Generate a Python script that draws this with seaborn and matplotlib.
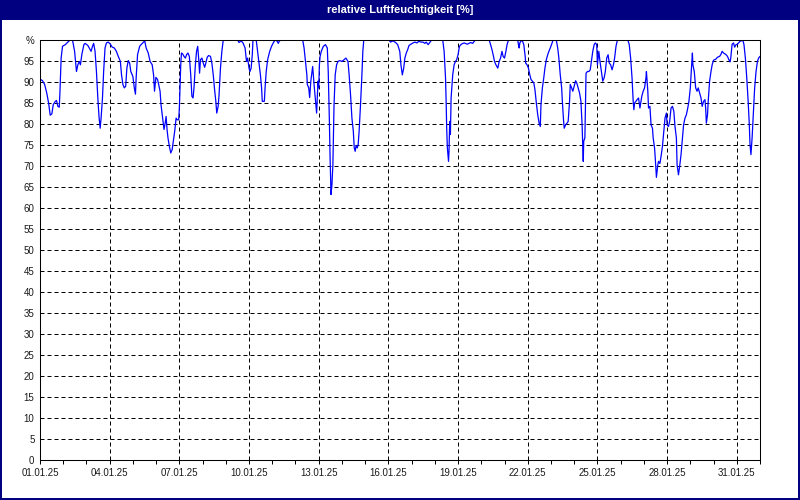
import numpy as np
import pandas as pd
import matplotlib
matplotlib.use("Agg")
import matplotlib.pyplot as plt
import matplotlib.dates as mdates
from matplotlib.patches import Rectangle
from matplotlib.ticker import FixedLocator
import seaborn as sns

# ---------------- data ----------------
start_date = "2025-01-01"
end_date = "2025-02-01"
chart_title = "relative Luftfeuchtigkeit [%]"
x_tick_dates = ["2025-01-01", "2025-01-04", "2025-01-07", "2025-01-10",
                "2025-01-13", "2025-01-16", "2025-01-19", "2025-01-22",
                "2025-01-25", "2025-01-28", "2025-01-31"]

# time as fractional days after 01.01.25 00:00, relative humidity in %
days_1 = [0.03, 0.11, 0.20, 0.29, 0.37, 0.44, 0.51, 0.57, 0.66, 0.71,
          0.77, 0.83, 0.86, 0.91, 0.97, 1.09, 1.20, 1.29, 1.40, 1.49,
          1.57, 1.63, 1.69, 1.74, 1.80, 1.89, 1.94, 2.06, 2.14, 2.20,
          2.26, 2.31, 2.37, 2.43, 2.49, 2.54, 2.59, 2.63, 2.69, 2.74,
          2.80, 2.86, 2.94, 3.03, 3.11, 3.20, 3.29, 3.37, 3.46, 3.51,
          3.57, 3.63, 3.69, 3.74, 3.80, 3.86, 3.91, 4.00, 4.06, 4.11,
          4.14, 4.20, 4.29, 4.37, 4.46, 4.51, 4.57, 4.66, 4.74, 4.83,
          4.89, 4.93, 4.99, 5.06, 5.11, 5.17, 5.21]
rh_1 = [90.6, 90.3, 89.4, 87.4, 85, 82.1, 82.4, 84.6, 85.4, 85.6,
        84.2, 84, 87.8, 95.7, 98.5, 98.9, 99.5, 100, 100, 97.3,
        92.5, 94.1, 94.9, 94.1, 96.5, 98.9, 99.2, 98.7, 97.9, 97.3,
        98.5, 99.2, 97.3, 92.5, 86.2, 81.8, 79, 81.4, 86.2, 92.5,
        98.1, 99.3, 99.5, 99, 98.3, 98.1, 97.3, 96.1, 94.9, 91.7,
        89.4, 88.6, 89, 93.3, 95.1, 94.5, 92.5, 91.3, 88.6, 87.1,
        91, 96.5, 98.5, 99, 99.5, 99.8, 98.1, 96.9, 94.9, 94.1,
        91.7, 87.8, 91.1, 90.6, 89.4, 87.8, 84.6]

days_2 = [5.30, 5.34, 5.39, 5.43, 5.47, 5.51, 5.57, 5.63, 5.69, 5.74,
          5.80, 5.86, 5.91, 5.97, 6.00, 6.06, 6.09, 6.14, 6.20, 6.26,
          6.31, 6.37, 6.43, 6.49, 6.54, 6.59, 6.63, 6.69, 6.74, 6.79,
          6.83, 6.87, 6.91, 6.97, 7.03, 7.09, 7.14, 7.20, 7.26, 7.34,
          7.40, 7.46, 7.51, 7.57, 7.61, 7.67, 7.71, 7.77, 7.83, 7.89,
          8.51, 8.57, 8.66, 8.74, 8.83, 8.89, 8.94, 9.00, 9.04, 9.09,
          9.14, 9.17, 9.31, 9.37, 9.43, 9.49, 9.54, 9.57, 9.66, 9.69,
          9.74, 9.80, 9.89, 9.97, 10.06, 10.14, 10.20, 10.26, 10.31, 10.40]
rh_2 = [80.6, 78.7, 80.2, 81.8, 78.7, 76.7, 74.7, 73.1, 73.9, 75.9,
        78.3, 81.4, 81, 81, 83.8, 94.1, 96.9, 96.7, 96.1, 95.7,
        96.5, 96.9, 96.1, 91.7, 86.6, 86.2, 88.6, 94.1, 97.3, 98.5,
        95.7, 92.1, 95.3, 95.7, 94.5, 93.5, 94.5, 95.9, 96.3, 96.1,
        94.5, 91.7, 88.6, 85.4, 82.6, 84.2, 87, 93.3, 97.3, 100,
        100, 99.4, 99.8, 99.3, 98.1, 94.9, 95.7, 93.3, 92.5, 93.3,
        96.5, 100, 100, 97.3, 94.5, 91.7, 88.6, 85.4, 85.4, 88.6,
        92.5, 95.3, 97.3, 98.5, 99.5, 100, 99.8, 99.2, 99.8, 100]

days_3 = [11.31, 11.37, 11.43, 11.49, 11.51, 11.57, 11.61, 11.66, 11.71, 11.74,
          11.80, 11.86, 11.91, 11.94, 11.97, 12.00, 12.03, 12.06, 12.11, 12.20,
          12.29, 12.37, 12.41, 12.46, 12.49, 12.53, 12.57, 12.61, 12.66, 12.71,
          12.77, 12.83, 12.91, 13.00, 13.09, 13.17, 13.26, 13.31, 13.37, 13.43,
          13.49, 13.53, 13.57, 13.61, 13.66, 13.70, 13.74, 13.80, 13.86, 13.90,
          13.94, 15.03, 15.09, 15.20, 15.31, 15.40]
rh_3 = [100, 98.1, 94.9, 91.7, 89.4, 88.6, 86.3, 90.2, 92.5, 93.7,
        89.4, 85.8, 82.6, 86.2, 90.2, 88.6, 94.1, 96.1, 97.3, 98.5,
        98.9, 98.1, 92.5, 80.6, 71.9, 63.2, 65.6, 70.3, 84.6, 91.7,
        94.1, 94.9, 95.1, 94.9, 95.3, 95.7, 94.9, 91.7, 87, 81.4,
        78.3, 74.3, 73.5, 74.9, 74.3, 75.2, 78.3, 84.6, 91.7, 97.3,
        100, 100, 99.5, 99.8, 99.4, 98.9]

days_4 = [15.49, 15.54, 15.60, 15.66, 15.71, 15.77, 15.83, 15.89, 15.97, 16.06,
          16.14, 16.23, 16.31, 16.40, 16.49, 16.57, 16.63, 16.71, 16.77, 16.83,
          16.89, 17.34, 17.40, 17.46, 17.49, 17.51, 17.54, 17.59, 17.61, 17.64,
          17.67, 17.70, 17.74, 17.77, 17.83, 17.89, 17.94, 18.00, 18.06, 18.14,
          18.26, 18.40, 18.54, 18.63, 18.71, 18.77, 19.34, 19.40, 19.46, 19.51,
          19.57, 19.63, 19.71, 19.77, 19.83, 19.89, 19.94, 20.00, 20.06, 20.11,
          20.17, 20.57, 20.60, 20.63, 20.66, 20.71]
rh_4 = [97.3, 94.1, 91.7, 93.3, 95.7, 96.9, 97.7, 98.7, 99, 99.3,
        99.5, 99.3, 99.7, 99.5, 99.5, 99.2, 99.5, 98.9, 99.3, 99.8,
        100, 100, 97.3, 91, 84.6, 79, 74.3, 71.1, 73.5, 80.6,
        77.5, 86.2, 89.4, 91.7, 94.1, 94.9, 95.3, 96.5, 98.5, 99,
        99.3, 99, 99.4, 99.2, 99.8, 100, 100, 98.9, 97.7, 96.5,
        94.9, 94.1, 93.3, 94.9, 95.7, 97.3, 96.1, 95.7, 97.3, 98.9,
        100, 100, 98.9, 98.1, 99.3, 99.8]

days_5 = [20.77, 20.83, 20.89, 20.91, 20.97, 21.03, 21.09, 21.14, 21.20, 21.26,
          21.31, 21.37, 21.43, 21.49, 21.54, 21.57, 21.63, 21.69, 21.74, 21.80,
          21.86, 21.91, 21.97, 22.03, 22.09, 22.23, 22.29, 22.34, 22.40, 22.46,
          22.49, 22.54, 22.57, 22.63, 22.69, 22.74, 22.80, 22.83, 22.89, 22.94,
          23.00, 23.06, 23.11, 23.17, 23.23, 23.29, 23.34, 23.39, 23.41, 23.46,
          23.49, 23.51, 23.57, 23.63, 23.69, 23.74, 23.80, 23.86, 23.91, 23.97,
          24.00, 24.06, 24.11, 24.17, 24.23, 24.29, 24.34, 24.40, 24.46, 24.51,
          24.57, 24.63, 24.69, 24.74, 24.80, 24.86, 25.31, 25.37, 25.43, 25.49,
          25.54, 25.57, 25.60, 25.66, 25.71, 25.77, 25.83]
rh_5 = [99.8, 98.9, 96.1, 94.5, 94.1, 93.3, 91.7, 90.6, 90.2, 89.8,
        88.2, 85, 82.2, 80.2, 79.4, 84.6, 88.6, 91, 93.3, 95.3,
        96.5, 97.3, 98.1, 99, 100, 100, 98.1, 95.7, 91.7, 88.6,
        85.4, 81, 79, 79.8, 80.2, 80.6, 85.4, 89.4, 88.6, 87.8,
        89, 90.3, 89.8, 88.6, 87.4, 85.4, 79.8, 71.1, 75.9, 76.7,
        85.4, 92.1, 92.5, 92.5, 92.9, 94.9, 97.3, 98.9, 99.3, 98.9,
        94.1, 97.3, 94.9, 92.5, 90.2, 91, 92.5, 95.7, 96.5, 94.5,
        94.1, 92.9, 94.1, 95.7, 98.5, 100, 100, 98.9, 95.7, 91,
        85.4, 83.4, 85, 85.4, 85.8, 86.2, 83.8]

days_6 = [25.91, 25.97, 26.03, 26.09, 26.11, 26.14, 26.17, 26.20, 26.26, 26.31,
          26.37, 26.40, 26.46, 26.49, 26.54, 26.60, 26.63, 26.69, 26.74, 26.80,
          26.86, 26.91, 26.97, 27.00, 27.06, 27.11, 27.17, 27.23, 27.29, 27.34,
          27.40, 27.43, 27.49, 27.54, 27.60, 27.66, 27.71, 27.77, 27.83, 27.89,
          27.94, 28.00, 28.04, 28.09, 28.11, 28.17, 28.23, 28.29, 28.34, 28.40,
          28.46, 28.51, 28.57, 28.63, 28.66, 28.69, 28.74, 28.77, 28.83, 28.89,
          28.94, 29.00, 29.09, 29.17, 29.26, 29.31, 29.37, 29.43, 29.49, 29.54,
          29.60, 29.66, 29.71, 29.74, 29.77, 29.80, 29.86, 29.91, 29.97, 30.03,
          30.09, 30.14, 30.20, 30.26, 30.31, 30.37, 30.43, 30.49, 30.54, 30.57,
          30.61, 30.66, 30.71, 30.77, 30.83, 30.89, 30.94, 31.00]
rh_6 = [86.6, 87.8, 88.6, 91, 92.5, 90.2, 87.8, 83.8, 84.2, 79.8,
        79, 76.7, 74.3, 71.9, 67.3, 70.3, 71.1, 70.6, 72.3, 74.7,
        78.3, 81.4, 82.6, 79.8, 79.4, 80.6, 83.8, 84.2, 83, 79.4,
        76.7, 70.3, 67.9, 69.9, 72.7, 76.7, 79.8, 81.4, 82.2, 83.8,
        85.4, 88.6, 92.5, 96.9, 94.1, 92.5, 88.6, 87.8, 88.6, 87.4,
        86.2, 84.2, 85.4, 85.8, 83.8, 80.2, 82.2, 85.4, 90.2, 92.5,
        94.1, 95.2, 95.4, 95.9, 96.1, 96.5, 97.3, 96.9, 96.7, 96.5,
        96.1, 95.3, 94.8, 95.7, 97.3, 99, 99.3, 98.3, 98.9, 99,
        99.4, 99.7, 99.8, 100, 98.9, 95.7, 91, 85.4, 79.8, 75.1,
        72.7, 76.7, 82.2, 88.6, 92.5, 94.9, 95.7, 96.1]

y_ticks = list(range(0, 101, 5))
y_tick_labels = [str(v) for v in range(0, 100, 5)] + ["%"]

# ---------------- build table ----------------
days = days_1 + days_2 + days_3 + days_4 + days_5 + days_6
rh = rh_1 + rh_2 + rh_3 + rh_4 + rh_5 + rh_6
df = pd.DataFrame({
    "time": pd.Timestamp(start_date) + pd.to_timedelta(days, unit="D"),
    "rh": rh,
})

# ---------------- style ----------------
sns.set_style("white")
plt.rcParams["font.family"] = ["Liberation Sans", "DejaVu Sans"]

W, H = 800, 500
fig = plt.figure(figsize=(8, 5), dpi=100, facecolor="white")
navy = "#000080"

# title bar and frame
fig.patches.append(Rectangle((0, 1 - 20 / H), 1, 20 / H, transform=fig.transFigure,
                             facecolor=navy, edgecolor="none", zorder=0))
for (x0, y0, w, h) in [(0, 0, 2 / W, 1), (1 - 2 / W, 0, 2 / W, 1), (0, 0, 1, 2 / H)]:
    fig.patches.append(Rectangle((x0, y0), w, h, transform=fig.transFigure,
                                 facecolor=navy, edgecolor="none", zorder=0))
fig.text(0.5, 1 - 10 / H, chart_title, color="white", fontsize=8,
         fontweight="bold", ha="center", va="center")

ax = fig.add_axes([40 / W, 40 / H, 720 / W, 420 / H])
ax.set_facecolor("white")

sns.lineplot(data=df, x="time", y="rh", ax=ax, color="#0000FF",
             linewidth=0.9, estimator=None, sort=False, zorder=3)

ax.set_xlim(pd.Timestamp(start_date), pd.Timestamp(end_date))
ax.set_ylim(0, 100)
ax.set_xlabel("")
ax.set_ylabel("")

major_pos = mdates.date2num(pd.to_datetime(x_tick_dates))
ax.xaxis.set_major_locator(FixedLocator(major_pos))
ax.xaxis.set_minor_locator(mdates.DayLocator())
ax.xaxis.set_major_formatter(mdates.DateFormatter("%d.%m.%y"))
ax.set_yticks(y_ticks)
ax.set_yticklabels(y_tick_labels)

ax.tick_params(axis="x", which="both", direction="out", length=3, width=0.72,
               color="black", labelsize=7, pad=3, bottom=True)
ax.tick_params(axis="y", which="both", length=0, labelsize=7, pad=4, left=True)
for lab in ax.get_xticklabels() + ax.get_yticklabels():
    lab.set_color("#1a1a1a")

ax.grid(True, which="major", axis="both", color="black", linewidth=0.72,
        linestyle=(0, (4, 3)))
ax.set_axisbelow(False)
for s in ax.spines.values():
    s.set_visible(True)
    s.set_color("black")
    s.set_linewidth(0.75)
    s.set_zorder(5)

fig.savefig("out.png", dpi=100, facecolor="white")
